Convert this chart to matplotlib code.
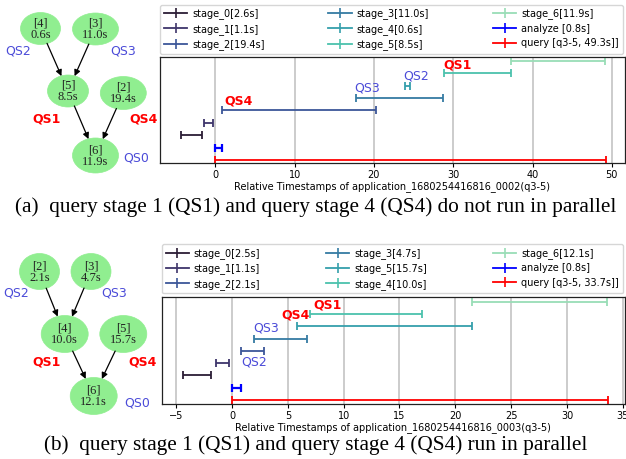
import matplotlib
matplotlib.use("Agg")
import matplotlib.pyplot as plt
from matplotlib.lines import Line2D
from matplotlib.patches import Ellipse
import seaborn as sns

# ---------------- data ----------------
# panel (a)
a_stage_names = ["stage_0", "stage_1", "stage_2", "stage_3", "stage_4", "stage_5", "stage_6"]
a_stage_start = [-4.3, -1.4, 0.9, 17.7, 23.9, 28.8, 37.3]
a_stage_end = [-1.7, -0.3, 20.3, 28.7, 24.5, 37.3, 49.2]
a_stage_dur = [2.6, 1.1, 19.4, 11.0, 0.6, 8.5, 11.9]
a_analyze = (0.0, 0.8)
a_query = (0.0, 49.3)
a_query_label = "query [q3-5, 49.3s]]"
a_xlabel = "Relative Timestamps of application_1680254416816_0002(q3-5)"
a_xticks = [0, 10, 20, 30, 40, 50]
a_dag_ids = ["4", "3", "5", "2", "6"]
a_dag_secs = [0.6, 11.0, 8.5, 19.4, 11.9]

# panel (b)
b_stage_names = ["stage_0", "stage_1", "stage_2", "stage_3", "stage_5", "stage_4", "stage_6"]
b_stage_start = [-4.4, -1.4, 0.8, 2.0, 5.8, 7.0, 21.5]
b_stage_end = [-1.9, -0.3, 2.9, 6.7, 21.5, 17.0, 33.6]
b_stage_dur = [2.5, 1.1, 2.1, 4.7, 15.7, 10.0, 12.1]
b_analyze = (0.0, 0.8)
b_query = (0.0, 33.7)
b_query_label = "query [q3-5, 33.7s]]"
b_xlabel = "Relative Timestamps of application_1680254416816_0003(q3-5)"
b_xticks = [-5, 0, 5, 10, 15, 20, 25, 30, 35]
b_dag_ids = ["2", "3", "4", "5", "6"]
b_dag_secs = [2.1, 4.7, 10.0, 15.7, 12.1]

analyze_label = "analyze [0.8s]"
captions = ["(a)  query stage 1 (QS1) and query stage 4 (QS4) do not run in parallel",
            "(b)  query stage 1 (QS1) and query stage 4 (QS4) run in parallel"]

# ---------------- style / layout ----------------
W, H = 626, 459
BLUE_T = "#4b4bd8"
RED_T = "#ff0000"
stage_colors = sns.color_palette("mako", 7)

fig = plt.figure(figsize=(W / 100, H / 100), dpi=100)

# overlay axes in pixel coordinates for the DAGs
ax0 = fig.add_axes([0, 0, 1, 1], zorder=0)
ax0.set_xlim(0, W)
ax0.set_ylim(H, 0)
ax0.axis("off")


def px_axes(left, top, right, bottom):
    return fig.add_axes([left / W, 1 - bottom / H, (right - left) / W, (bottom - top) / H], zorder=2)


def draw_timeline(ax, names, starts, ends, durs, analyze, query, qlabel, xlabel, xticks,
                  xlim, ylim, qs_labels):
    handles, labels = [], []
    for i, (n, s, e, d) in enumerate(zip(names, starts, ends, durs)):
        c = stage_colors[i]
        row = i + 2
        ax.errorbar([(s + e) / 2], [row], xerr=[(e - s) / 2], fmt="none", ecolor=c,
                    elinewidth=1.3, capsize=3, capthick=1.3)
        handles.append(Line2D([], [], color=c, lw=1.3, marker="|", markersize=7, mew=1.2))
        labels.append(f"{n}[{d}s]")
    ax.errorbar([(analyze[0] + analyze[1]) / 2], [1], xerr=[(analyze[1] - analyze[0]) / 2],
                fmt="none", ecolor="#0000ff", elinewidth=1.6, capsize=3, capthick=1.6)
    ax.errorbar([(query[0] + query[1]) / 2], [0], xerr=[(query[1] - query[0]) / 2],
                fmt="none", ecolor="#ff0000", elinewidth=1.3, capsize=3, capthick=1.3)
    handles.append(Line2D([], [], color="#0000ff", lw=1.3, marker="|", markersize=7, mew=1.2))
    labels.append(analyze_label)
    handles.append(Line2D([], [], color="#ff0000", lw=1.3, marker="|", markersize=7, mew=1.2))
    labels.append(qlabel)
    ax.legend(handles, labels, loc="lower left", bbox_to_anchor=(0, 1.03, 0.995, 0.2),
              mode="expand", ncol=3, fontsize=7, handlelength=2.4, handletextpad=0.5,
              borderaxespad=0, edgecolor="#cccccc", numpoints=1, borderpad=0.4,
              labelspacing=0.45)
    ax.set_xlim(*xlim)
    ax.set_ylim(*ylim)
    ax.set_xticks(xticks)
    ax.set_yticks([])
    ax.grid(axis="x", color="#c4c4c4", lw=1.2)
    ax.set_axisbelow(True)
    ax.tick_params(axis="x", labelsize=7, length=3, width=0.8, pad=2)
    ax.set_xlabel(xlabel, fontsize=7, labelpad=1)
    for sp in ax.spines.values():
        sp.set_color("#222222")
        sp.set_linewidth(0.9)
    for txt, idx, dx, dy, ha, red in qs_labels:
        x = starts[idx] + dx
        y = idx + 2 + dy
        if red:
            ax.text(x, y, txt, color=RED_T, fontsize=9, fontweight="bold", ha=ha, va="center")
        else:
            ax.text(x, y, txt, color=BLUE_T, fontsize=9, ha=ha, va="center")


axa = px_axes(160, 57, 625, 163)
draw_timeline(axa, a_stage_names, a_stage_start, a_stage_end, a_stage_dur, a_analyze, a_query,
              a_query_label, a_xlabel, a_xticks, (-6.97, 51.66), (-0.24, 8.32),
              [("QS4", 2, 0.3, 0.78, "left", True),
               ("QS3", 3, -0.2, 0.85, "left", False),
               ("QS2", 4, -0.2, 0.8, "left", False),
               ("QS1", 5, 0.0, 0.68, "left", True)])

axb = px_axes(161.7, 296.7, 625, 404)
draw_timeline(axb, b_stage_names, b_stage_start, b_stage_end, b_stage_dur, b_analyze, b_query,
              b_query_label, b_xlabel, b_xticks, (-6.3, 35.2), (-0.33, 8.41),
              [("QS2", 2, 0.0, -0.9, "left", False),
               ("QS3", 3, -0.1, 0.86, "left", False),
               ("QS4", 4, 1.2, 0.92, "right", True),
               ("QS1", 5, 0.3, 0.7, "left", True)])


def draw_dag(ids, secs, centers, sizes, qs_pos):
    patches = []
    for nid, sec, (cx, cy), (w, h) in zip(ids, secs, centers, sizes):
        e = Ellipse((cx, cy), w, h, facecolor="#90ee90", edgecolor="#90ee90", lw=0.5)
        ax0.add_patch(e)
        patches.append(e)
        ax0.text(cx, cy + 0.5, f"[{nid}]\n{sec}s", ha="center", va="center", fontsize=9,
                 family="Liberation Serif", color="#222222", linespacing=0.9)
    for s, t in [(0, 2), (1, 2), (2, 4), (3, 4)]:
        ax0.annotate("", xy=centers[t], xytext=centers[s],
                     arrowprops=dict(arrowstyle="-|>", color="black", lw=0.9,
                                     mutation_scale=9, patchA=patches[s], patchB=patches[t],
                                     shrinkA=0, shrinkB=0))
    for txt, (x, y), red in qs_pos:
        if red:
            ax0.text(x, y, txt, color=RED_T, fontsize=9, fontweight="bold", ha="left", va="center")
        else:
            ax0.text(x, y, txt, color=BLUE_T, fontsize=9, ha="left", va="center")


draw_dag(a_dag_ids, a_dag_secs,
         [(40.5, 28.5), (95.5, 29), (68, 91), (123.3, 93), (95.5, 155.5)],
         [(40, 32), (46, 32), (41, 32), (46, 33), (46, 35)],
         [("QS2", (5, 51), False), ("QS3", (110, 51), False), ("QS1", (32, 119), True),
          ("QS4", (129, 119), True), ("QS0", (123, 158), False)])

draw_dag(b_dag_ids, b_dag_secs,
         [(39.5, 271.5), (91, 271.5), (64.7, 334), (123.3, 334), (93.7, 396)],
         [(40, 36), (40, 36), (47, 37), (47, 37), (47, 37)],
         [("QS2", (3, 293), False), ("QS3", (101, 293), False), ("QS1", (32, 362), True),
          ("QS4", (128, 362), True), ("QS0", (124, 403), False)])

fig.text(316 / W, 1 - 207 / H, captions[0], ha="center", va="center", fontsize=15.3,
         family="Liberation Serif")
fig.text(316 / W, 1 - 445 / H, captions[1], ha="center", va="center", fontsize=15.3,
         family="Liberation Serif")

fig.savefig("out.png", dpi=100)
